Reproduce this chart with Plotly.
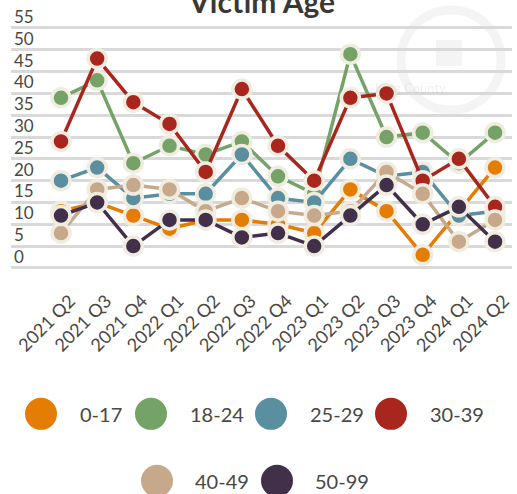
import plotly.graph_objects as go

# ---- data -------------------------------------------------------------
quarters = ["2021 Q2", "2021 Q3", "2021 Q4", "2022 Q1", "2022 Q2", "2022 Q3",
            "2022 Q4", "2023 Q1", "2023 Q2", "2023 Q3", "2023 Q4", "2024 Q1",
            "2024 Q2"]
age_0_17 = [13, 15, 12, 9, 11, 11, 10, 8, 18, 13, 3, 13, 23]
age_18_24 = [39, 43, 24, 28, 26, 29, 21, 17, 49, 30, 31, 24, 31]
age_25_29 = [20, 23, 16, 17, 17, 26, 16, 15, 25, 21, 22, 12, 13]
age_30_39 = [29, 48, 38, 33, 22, 41, 28, 20, 39, 40, 20, 25, 14]
age_40_49 = [8, 18, 19, 18, 13, 16, 13, 12, 13, 22, 17, 6, 11]
age_50_99 = [12, 15, 5, 11, 11, 7, 8, 5, 12, 19, 10, 14, 6]

series_names = ["0-17", "18-24", "25-29", "30-39", "40-49", "50-99"]
series_values = [age_0_17, age_18_24, age_25_29, age_30_39, age_40_49, age_50_99]
series_colors = ["#e57c04", "#74a267", "#5a8fa0", "#a8261e", "#c6a98b", "#42304a"]
y_ticks = list(range(0, 56, 5))

# ---- layout constants -------------------------------------------------
W, H = 517, 494
FONT = "Lato"
TXT = "#4a4744"
HALO = "#f1ece0"
PLOT_L, PLOT_R = 11, 512
Y0_PX, Y55_PX = 268, 28
ppu = (Y0_PX - Y55_PX) / 55.0
ymin, ymax = -3.0, 60.5
top_px = Y55_PX - (ymax - 55) * ppu
bot_px = Y0_PX + (0 - ymin) * ppu
plot_h = bot_px - top_px
cat0_px, cat_step = 61.0, 36.17
xr = [(PLOT_L - cat0_px) / cat_step, (PLOT_R - cat0_px) / cat_step]


def px_x(x):
    return (x - PLOT_L) / (PLOT_R - PLOT_L)


def px_y(y):
    return (bot_px - y) / plot_h


fig = go.Figure()
for name, vals, col in zip(series_names, series_values, series_colors):
    fig.add_trace(go.Scatter(
        x=quarters, y=vals, name=name, mode="lines+markers",
        line=dict(color=col, width=3.5),
        marker=dict(color=col, size=18, line=dict(color=HALO, width=3.5)),
        showlegend=False, hoverinfo="skip",
    ))

shapes = []
annotations = []

# faint watermark seal (top right)
wx, wy, wr = 451, 60, 50
shapes.append(dict(type="circle", xref="paper", yref="paper", layer="below",
                   x0=px_x(wx - wr), x1=px_x(wx + wr), y0=px_y(wy + wr), y1=px_y(wy - wr),
                   line=dict(color="rgba(0,0,0,0.045)", width=9)))
shapes.append(dict(type="rect", xref="paper", yref="paper", layer="below",
                   x0=px_x(436), x1=px_x(462), y0=px_y(66), y1=px_y(40),
                   fillcolor="rgba(0,0,0,0.045)", line=dict(width=0)))
annotations.append(dict(text="King County", xref="paper", yref="paper",
                        x=px_x(448), y=px_y(78), showarrow=False,
                        font=dict(family=FONT, size=13, color="rgba(0,0,0,0.08)")))

# legend drawn manually with large circles
leg_circle_x = [41, 151, 271, 391, 157, 277]
leg_text_x = [78, 188, 308, 428, 193, 313]
leg_y = [414, 414, 414, 414, 481, 481]
for name, col, cx, tx, cy in zip(series_names, series_colors, leg_circle_x, leg_text_x, leg_y):
    shapes.append(dict(type="circle", xref="paper", yref="paper",
                       xsizemode="pixel", ysizemode="pixel",
                       xanchor=px_x(cx), yanchor=px_y(cy),
                       x0=-16, x1=16, y0=-16, y1=16,
                       fillcolor=col, line=dict(width=0)))
    annotations.append(dict(text=name, xref="paper", yref="paper",
                            x=px_x(tx), y=px_y(cy), xanchor="left", yanchor="middle",
                            showarrow=False,
                            font=dict(family=FONT, size=20, color=TXT)))

# title (partly cut off at the top, as in the reference)
annotations.append(dict(text="<b>Victim Age</b>", xref="paper", yref="paper",
                        x=px_x(261), y=px_y(1), xanchor="center", yanchor="middle",
                        showarrow=False,
                        font=dict(family=FONT, size=30, color="#3a3835")))

fig.update_layout(
    width=W, height=H,
    margin=dict(l=PLOT_L, r=W - PLOT_R, t=top_px, b=H - bot_px, pad=0),
    paper_bgcolor="white", plot_bgcolor="white",
    font=dict(family=FONT, color=TXT),
    showlegend=False,
    hovermode=False,
    shapes=shapes,
    annotations=annotations,
    xaxis=dict(
        type="category", range=xr, showgrid=False, zeroline=False, showline=False,
        ticks="", tickangle=-45, tickfont=dict(family=FONT, size=18, color=TXT),
        ticklabelshift=9, ticklabelstandoff=5,
    ),
    yaxis=dict(
        range=[ymin, ymax], tickvals=y_ticks, ticktext=[str(v) for v in y_ticks],
        showgrid=True, gridcolor="#d9d9d9", gridwidth=2.5,
        zeroline=False, showline=False, ticks="",
        ticklabelposition="inside", ticklabelshift=-11,
        tickfont=dict(family=FONT, size=17, color=TXT),
    ),
)

fig.write_html("out.html", config={"displayModeBar": False},
               post_script="document.body.style.margin='0px';document.body.style.overflow='hidden';")
